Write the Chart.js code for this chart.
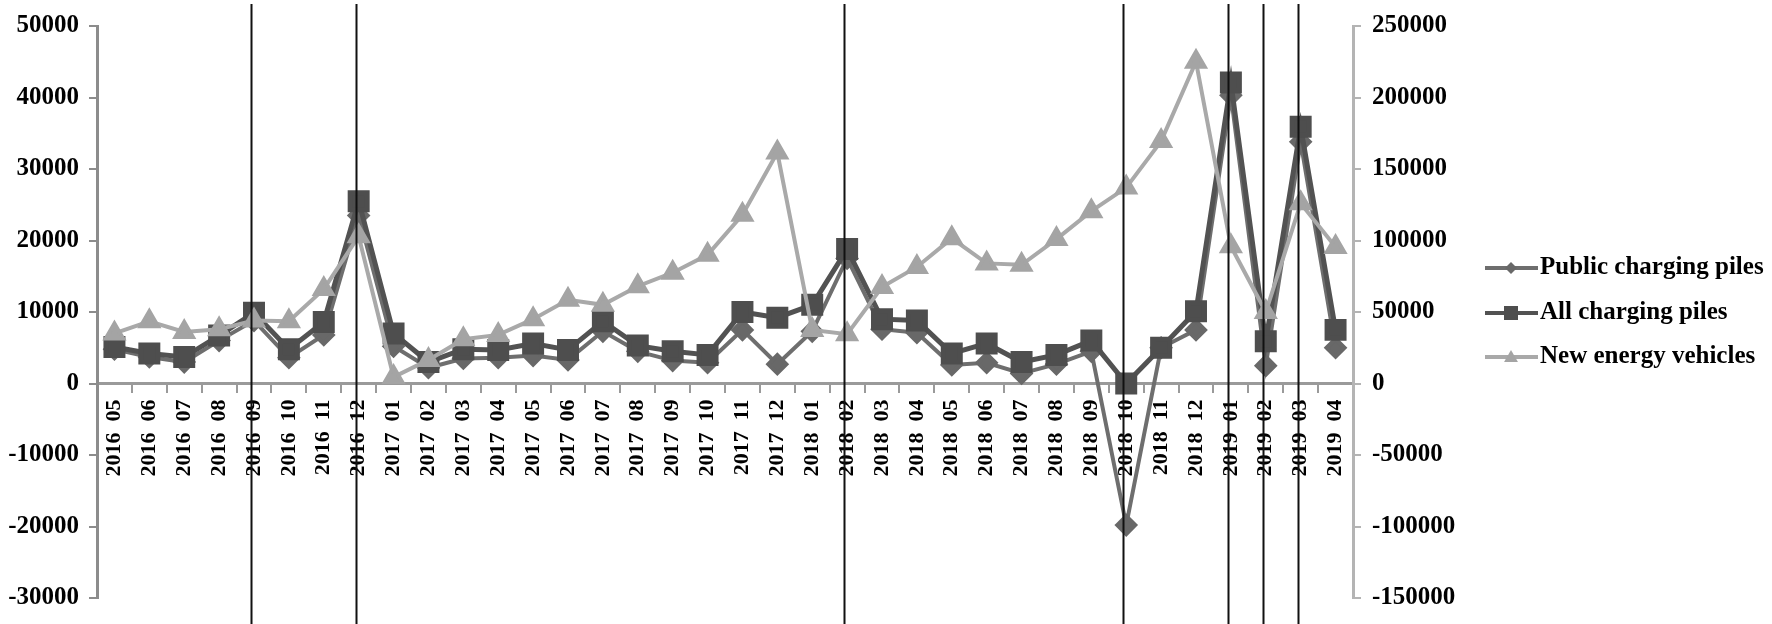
<!DOCTYPE html>
<html>
<head>
<meta charset="utf-8">
<script src="https://cdn.jsdelivr.net/npm/chart.js"></script>
<style>
  html, body { margin: 0; padding: 0; background: #fff; }
  #wrap { width: 1772px; height: 624px; }
</style>
</head>
<body>
<div id="wrap"><canvas id="chart" width="1772" height="624"></canvas></div>
<script>
let months = ['2016 05','2016 06','2016 07','2016 08','2016 09','2016 10','2016 11','2016 12',
  '2017 01','2017 02','2017 03','2017 04','2017 05','2017 06','2017 07','2017 08','2017 09','2017 10','2017 11','2017 12',
  '2018 01','2018 02','2018 03','2018 04','2018 05','2018 06','2018 07','2018 08','2018 09','2018 10','2018 11','2018 12',
  '2019 01','2019 02','2019 03','2019 04']

let publicPiles = [4800, 3700, 3000, 6000, 8800, 3600, 6800, 23500,
  5200, 2200, 3500, 3600, 3900, 3300, 7300, 4500, 3200, 2900, 7500, 2700,
  7300, 17500, 7600, 7100, 2600, 2900, 1400, 2700, 4500, -19800, 5000, 7500,
  40300, 2500, 33800, 5000]

let allPiles = [5100, 4200, 3700, 6700, 9900, 4800, 8600, 25500,
  7000, 3000, 4800, 4700, 5600, 4700, 8700, 5300, 4500, 4000, 10000, 9200,
  11000, 18800, 9000, 8800, 4200, 5600, 3000, 4000, 6000, 0, 5000, 10100,
  42100, 5900, 35900, 7500]

let newEnergyVehicles = [35000, 43500, 36000, 38000, 44000, 43500, 66000, 103000,
  4500, 16500, 31000, 34000, 45000, 58500, 55000, 68000, 77500, 90000, 118000, 161500,
  37500, 34500, 67500, 81500, 101500, 84000, 83000, 101000, 120500, 137000, 169500, 225000,
  96000, 50000, 126000, 95500]

let markedMonths = ['2016 09','2016 12','2018 02','2018 10','2019 01','2019 02','2019 03']

let leftTicks = [-30000, 50000, 10000]
let rightTicks = [-150000, 250000, 50000]

let seriesNames = ['Public charging piles', 'All charging piles', 'New energy vehicles']

let font = {family: "'Liberation Serif', 'Times New Roman', serif", weight: 'bold', size: 25}

let markLines = {
  id: 'markLines',
  afterDatasetsDraw(chart) {
    let ctx = chart.ctx
    let x = chart.scales.x
    ctx.save()
    ctx.strokeStyle = '#111'
    ctx.lineWidth = 2
    markedMonths.forEach(m => {
      // the source lines sit a touch left of the month centre
      let px = Math.round(x.getPixelForValue(months.indexOf(m))) - 3 + 0.5
      ctx.beginPath()
      ctx.moveTo(px, 4)
      ctx.lineTo(px, chart.height)
      ctx.stroke()
    })
    ctx.restore()
  }
}

function marker(ctx, style, x, y, r) {
  ctx.beginPath()
  if (style == 'rect') {
    ctx.rect(x - r, y - r, 2 * r, 2 * r)
  } else if (style == 'rectRot') {
    ctx.moveTo(x - r, y); ctx.lineTo(x, y - r); ctx.lineTo(x + r, y); ctx.lineTo(x, y + r)
    ctx.closePath()
  } else {
    ctx.moveTo(x, y - r); ctx.lineTo(x + r * 0.87, y + r * 0.5); ctx.lineTo(x - r * 0.87, y + r * 0.5)
    ctx.closePath()
  }
  ctx.fill()
}

let sideLegend = {
  id: 'sideLegend',
  afterDraw(chart) {
    let ctx = chart.ctx
    let rows = [268, 313, 357]
    let sizes = [6, 7, 8]
    ctx.save()
    ctx.font = 'bold 25px ' + font.family
    ctx.textBaseline = 'middle'
    ctx.textAlign = 'left'
    ;[0, 1, 2].forEach(i => {
      let ds = chart.data.datasets.find(d => d.label == seriesNames[i])
      ctx.strokeStyle = ds.borderColor
      ctx.lineWidth = 4
      ctx.beginPath()
      ctx.moveTo(1485, rows[i])
      ctx.lineTo(1538, rows[i])
      ctx.stroke()
      ctx.fillStyle = ds.pointBackgroundColor
      marker(ctx, ds.pointStyle, 1511, rows[i] + (ds.pointStyle == 'triangle' ? 1 : 0), sizes[i])
      ctx.fillStyle = '#000'
      ctx.fillText(seriesNames[i], 1540, rows[i])
    })
    ctx.restore()
  }
}

new Chart(document.getElementById('chart'), {
  type: 'line',
  data: {
    labels: months,
    datasets: [
      {
        label: seriesNames[2],
        data: newEnergyVehicles,
        yAxisID: 'y1',
        borderColor: '#a9a9a9',
        backgroundColor: '#a9a9a9',
        pointBackgroundColor: '#a4a4a4',
        pointBorderColor: '#a4a4a4',
        pointStyle: 'triangle',
        pointRadius: 10,
        borderWidth: 4,
        order: 0
      },
      {
        label: seriesNames[1],
        data: allPiles,
        yAxisID: 'y',
        borderColor: '#525252',
        backgroundColor: '#525252',
        pointBackgroundColor: '#4e4e4e',
        pointBorderColor: '#4e4e4e',
        pointStyle: 'rect',
        pointRadius: 12,
        borderWidth: 5,
        order: 1
      },
      {
        label: seriesNames[0],
        data: publicPiles,
        yAxisID: 'y',
        borderColor: '#6e6e6e',
        backgroundColor: '#6e6e6e',
        pointBackgroundColor: '#686868',
        pointBorderColor: '#686868',
        pointStyle: 'rectRot',
        pointRadius: 9,
        borderWidth: 4,
        order: 2
      }
    ]
  },
  options: {
    responsive: false,
    animation: false,
    layout: { padding: { top: 23, bottom: 20, left: 0, right: 0 } },
    plugins: {
      legend: { display: false },
      tooltip: { enabled: false }
    },
    scales: {
      x: {
        position: { y: 0 },
        offset: true,
        grid: { drawOnChartArea: false, offset: true, tickLength: 8, color: '#9a9a9a', lineWidth: 2 },
        border: { color: '#9a9a9a', width: 3 },
        ticks: {
          autoSkip: false, minRotation: 90, maxRotation: 90, padding: 8, color: '#000',
          font: { family: font.family, weight: 'bold', size: 22 },
          callback: function(v) { return this.getLabelForValue(v).replace(' ', '  ') }
        }
      },
      y: {
        position: 'left',
        min: leftTicks[0], max: leftTicks[1],
        grid: { drawOnChartArea: false, tickLength: 8, color: '#8c8c8c', lineWidth: 2 },
        border: { color: '#8c8c8c', width: 3 },
        ticks: { stepSize: leftTicks[2], padding: 10, color: '#000', font: font, callback: v => String(v) },
        afterFit: s => { s.width = 97 }
      },
      y1: {
        position: 'right',
        min: rightTicks[0], max: rightTicks[1],
        grid: { drawOnChartArea: false, tickLength: 8, color: '#b4b4b4', lineWidth: 2 },
        border: { color: '#b4b4b4', width: 3 },
        ticks: { stepSize: rightTicks[2], padding: 11, color: '#000', font: font, callback: v => String(v) },
        afterFit: s => { s.width = 419 }
      }
    }
  },
  plugins: [markLines, sideLegend]
})
</script>
</body>
</html>
